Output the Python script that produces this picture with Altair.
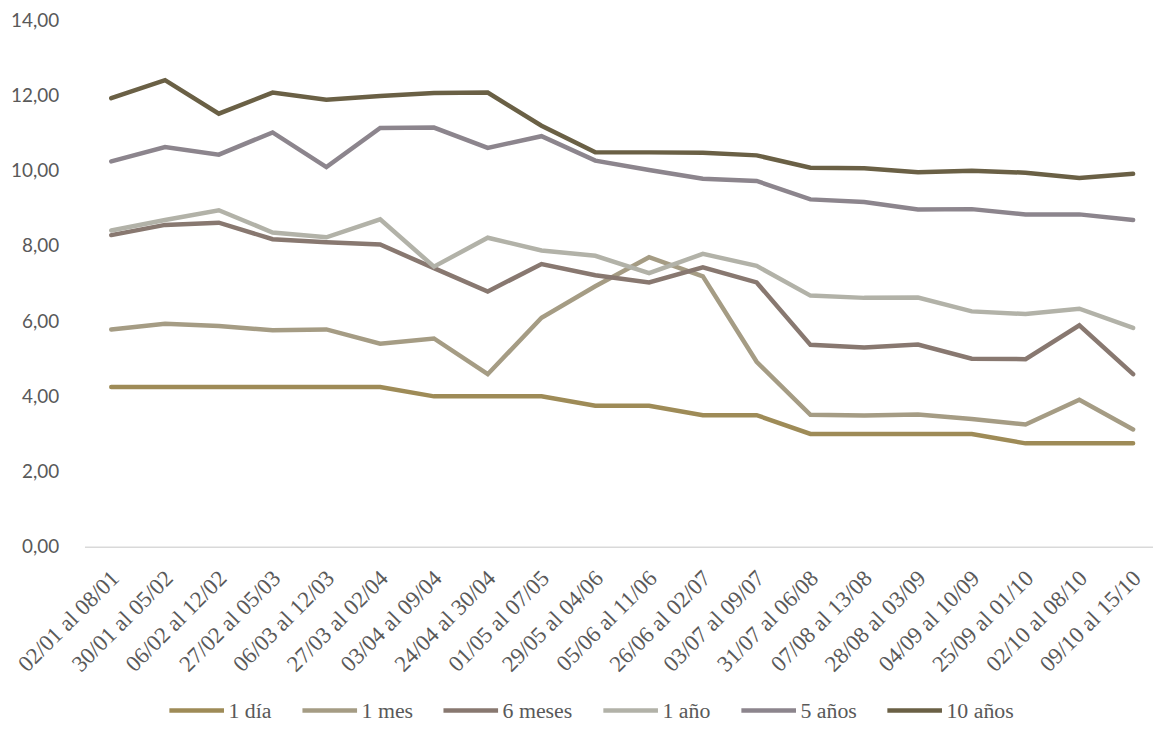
import altair as alt
import pandas as pd

periods = [
    "02/01 al 08/01", "30/01 al 05/02", "06/02 al 12/02", "27/02 al 05/03",
    "06/03 al 12/03", "27/03 al 02/04", "03/04 al 09/04", "24/04 al 30/04",
    "01/05 al 07/05", "29/05 al 04/06", "05/06 al 11/06", "26/06 al 02/07",
    "03/07 al 09/07", "31/07 al 06/08", "07/08 al 13/08", "28/08 al 03/09",
    "04/09 al 10/09", "25/09 al 01/10", "02/10 al 08/10", "09/10 al 15/10",
]

series_names = ["1 día", "1 mes", "6 meses", "1 año", "5 años", "10 años"]
series_colors = ["#9E8B57", "#A59C84", "#887870", "#B2B2A8", "#8C858D", "#6A6045"]

dia_1 = [4.25, 4.25, 4.25, 4.25, 4.25, 4.25, 4.00, 4.00, 4.00, 3.75,
         3.75, 3.50, 3.50, 3.00, 3.00, 3.00, 3.00, 2.75, 2.75, 2.75]
mes_1 = [5.78, 5.93, 5.87, 5.76, 5.78, 5.40, 5.54, 4.59, 6.09, 6.93,
         7.70, 7.19, 4.92, 3.51, 3.49, 3.52, 3.40, 3.25, 3.91, 3.12]
meses_6 = [8.29, 8.56, 8.62, 8.18, 8.10, 8.04, 7.41, 6.79, 7.52, 7.22,
           7.03, 7.43, 7.03, 5.37, 5.30, 5.38, 5.00, 4.99, 5.89, 4.59]
ano_1 = [8.41, 8.69, 8.95, 8.36, 8.23, 8.71, 7.45, 8.22, 7.88, 7.74,
         7.28, 7.79, 7.47, 6.68, 6.62, 6.63, 6.26, 6.19, 6.33, 5.82]
anos_5 = [10.25, 10.63, 10.43, 11.02, 10.10, 11.14, 11.15, 10.61, 10.92, 10.27,
          10.02, 9.79, 9.73, 9.24, 9.17, 8.97, 8.98, 8.84, 8.84, 8.69]
anos_10 = [11.93, 12.41, 11.52, 12.08, 11.89, 11.99, 12.07, 12.08, 11.20, 10.49,
           10.49, 10.48, 10.41, 10.08, 10.07, 9.96, 10.00, 9.95, 9.81, 9.92]

all_series = [dia_1, mes_1, meses_6, ano_1, anos_5, anos_10]

rows = []
for k, (name, vals) in enumerate(zip(series_names, all_series)):
    for p, v in zip(periods, vals):
        rows.append({"periodo": p, "serie": name, "valor": v, "orden": k})
df = pd.DataFrame(rows)

SERIF = "Liberation Serif"

chart = alt.Chart(df).mark_line(strokeWidth=4.5, strokeCap="round").encode(
    x=alt.X("periodo:N", sort=periods,
            scale=alt.Scale(type="point", padding=0.434, align=0.574),
            axis=alt.Axis(title=None, labelAngle=-45, labelFont=SERIF,
                          labelFontSize=23, labelColor="#595959", labelPadding=20,
                          labelOffset=-4, ticks=False, domain=True, domainColor="#D9D9D9",
                          domainWidth=1.5, grid=False, labelLimit=0)),
    y=alt.Y("valor:Q", scale=alt.Scale(domain=[0, 14], nice=False),
            axis=alt.Axis(title=None, values=[0, 2, 4, 6, 8, 10, 12, 14],
                          labelExpr="replace(format(datum.value, '.2f'), '.', ',')",
                          labelFont="Lato", labelFontSize=19, labelColor="#595959",
                          labelPadding=26, ticks=False, domain=False, grid=False)),
    color=alt.Color("serie:N", sort=series_names,
                    scale=alt.Scale(domain=series_names, range=series_colors),
                    legend=alt.Legend(title=None, orient="none", legendX=83, legendY=665,
                                      direction="horizontal", symbolType="stroke",
                                      symbolSize=3025, symbolStrokeWidth=4.5,
                                      labelFont=SERIF, labelFontSize=22,
                                      labelColor="#595959", labelOffset=2,
                                      columnPadding=21, labelLimit=0)),
    order=alt.Order("orden:Q"),
).properties(
    width=1076,
    height=530,
    autosize=alt.AutoSizeParams(type="none"),
    padding={"left": 77, "top": 10, "right": 0, "bottom": 175},
).configure(background="white").configure_view(stroke=None, strokeWidth=0)

chart.save("out.html", embed_options={"renderer": "svg", "actions": False})
